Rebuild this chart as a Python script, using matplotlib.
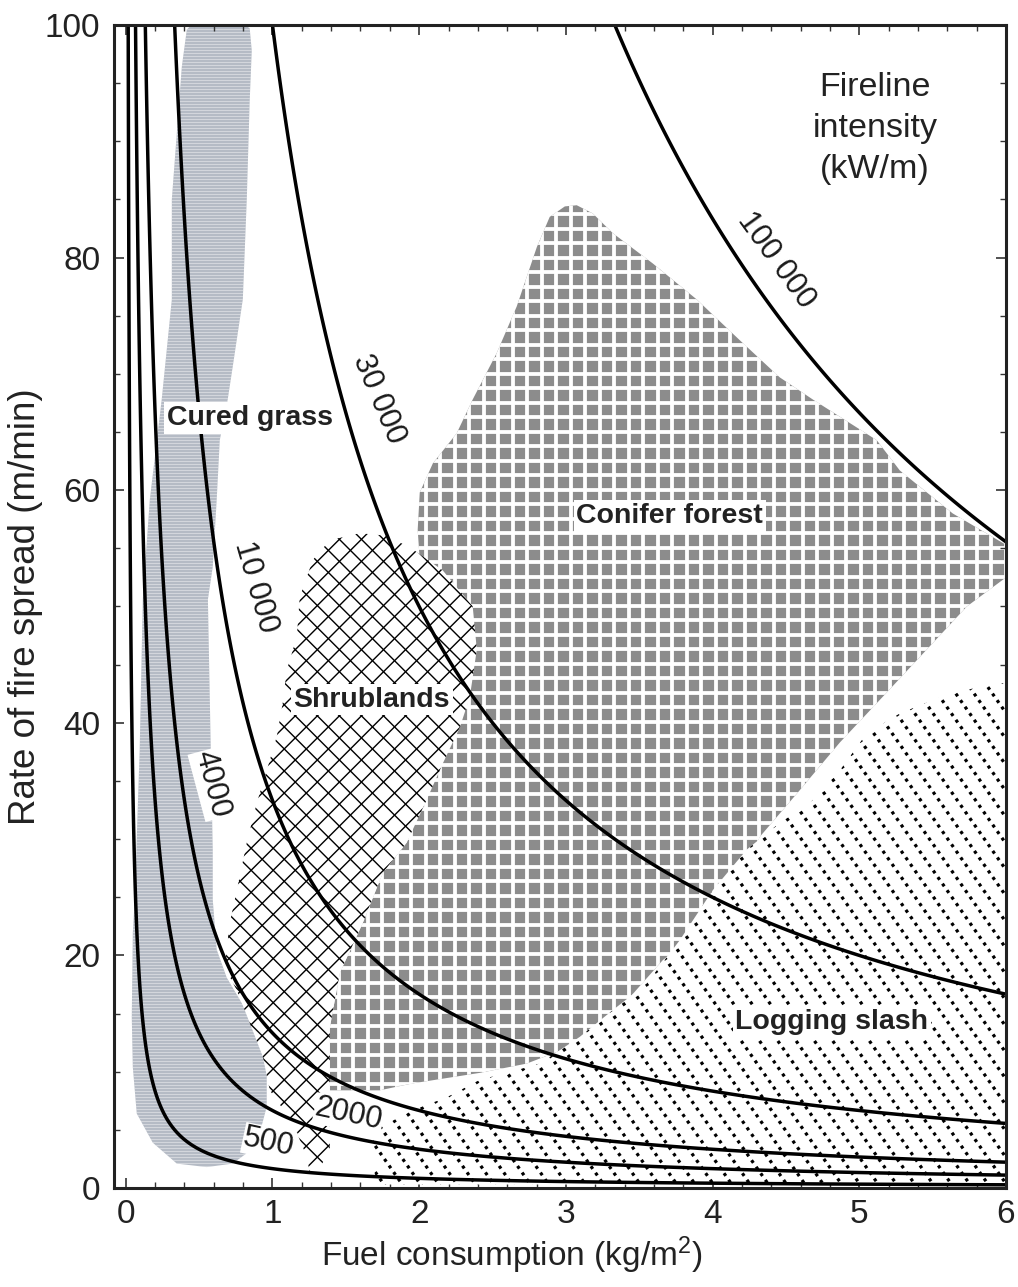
import numpy as np
import matplotlib
matplotlib.use("Agg")
import matplotlib.pyplot as plt
from matplotlib.patches import Polygon
from matplotlib.collections import LineCollection
from matplotlib.transforms import Affine2D
from matplotlib.ticker import MultipleLocator

plt.rcParams['font.family'] = ['Liberation Sans', 'DejaVu Sans']
plt.rcParams['mathtext.fontset'] = 'custom'
plt.rcParams['mathtext.rm'] = 'Liberation Sans'
plt.rcParams['mathtext.it'] = 'Liberation Sans'

# ---------------- data ----------------
heat_content = 18000  # kJ/kg (Byram)
intensity_levels = [500, 2000, 4000, 10000, 30000, 100000]
intensity_labels = ['500', '2000', '4000', '10 000', '30 000', '100 000']

x_ticks = [0, 1, 2, 3, 4, 5, 6]
y_ticks = [0, 20, 40, 60, 80, 100]

grass_x = [0.416, 0.47, 0.607, 0.777, 0.845, 0.859, 0.845, 0.825, 0.798, 0.729, 0.695, 0.641,
           0.620, 0.593, 0.560, 0.573, 0.593, 0.593, 0.620, 0.688, 0.777, 0.893, 0.961, 0.961,
           0.913, 0.825, 0.729, 0.552, 0.348, 0.184, 0.075, 0.048, 0.041, 0.048, 0.061, 0.095,
           0.116, 0.164, 0.245, 0.314, 0.314, 0.348, 0.382]
grass_y = [99.6, 100.3, 100.6, 100.4, 99.7, 97.8, 93.5, 85.0, 76.4, 70.6, 67.8, 64.3,
           59.2, 53.4, 50.6, 42.0, 29.1, 24.8, 20.5, 18.1, 16.2, 13.8, 11.0, 7.0,
           4.7, 3.0, 2.1, 1.8, 2.1, 3.9, 6.4, 10.4, 14.7, 21.9, 24.8, 37.7,
           50.6, 59.2, 67.8, 76.4, 85.0, 90.7, 96.4]

shrub_x = [1.595, 1.766, 1.936, 2.161, 2.365, 2.393, 2.345, 2.277, 2.161, 2.052, 1.915, 1.752,
           1.616, 1.459, 1.391, 1.391, 1.391, 1.309, 1.254, 1.234, 1.138, 0.982, 0.934, 0.845,
           0.757, 0.675, 0.709, 0.757, 0.825, 0.893, 0.961, 1.029, 1.070, 1.097, 1.166, 1.186,
           1.275, 1.391]
shrub_y = [56.3, 56.1, 55.1, 53.1, 50.0, 46.3, 42.2, 39.6, 36.5, 33.4, 29.7, 27.1,
           22.8, 18.5, 13.8, 9.9, 3.3, 1.4, 1.3, 2.7, 5.6, 8.4, 11.3, 14.2,
           17.0, 19.0, 22.8, 25.6, 29.7, 33.1, 35.9, 38.8, 41.7, 44.5, 47.4, 50.8,
           54.0, 55.7]

conifer_x = [3.074, 3.183, 3.320, 3.592, 3.892, 4.185, 4.458, 4.683, 5.119, 5.276, 5.637, 6.0,
             6.0, 5.733, 5.460, 5.187, 4.867, 4.594, 4.322, 4.117, 3.892, 3.661, 3.436, 3.211,
             2.979, 2.733, 2.413, 1.956, 1.731, 1.391, 1.391, 1.459, 1.616, 1.752, 1.915, 2.140,
             2.243, 2.140, 2.004, 1.990, 2.004, 2.093, 2.256, 2.365, 2.529, 2.665, 2.802, 2.890,
             2.993]
conifer_y = [84.5, 83.8, 82.1, 79.5, 76.4, 72.9, 69.7, 67.8, 64.3, 61.7, 58.0, 55.3,
             52.5, 50.0, 46.3, 42.6, 38.3, 34.2, 30.2, 25.4, 21.9, 19.6, 16.4, 13.8,
             11.9, 10.7, 9.9, 9.0, 8.4, 8.4, 13.8, 18.5, 22.8, 27.1, 29.7, 36.8,
             42.0, 48.8, 54.0, 56.6, 59.8, 62.3, 64.9, 67.8, 71.8, 75.8, 80.9, 83.5,
             84.4]

slash_x = [6.0, 5.890, 5.733, 5.549, 5.276, 5.051, 4.867, 4.663, 4.458, 4.233, 4.001, 3.776,
           3.552, 3.320, 3.095, 2.822, 2.597, 2.413, 2.188, 1.956, 1.731, 1.684, 1.697, 1.731,
           6.0]
slash_y = [43.4, 43.4, 42.8, 42.2, 40.8, 39.1, 35.9, 33.1, 31.4, 29.1, 25.6, 21.3,
           17.6, 15.3, 13.0, 10.7, 9.9, 9.3, 7.8, 6.7, 5.2, 4.1, 1.1, 0.3,
           0.3]

region_names = ['Cured grass', 'Shrublands', 'Conifer forest', 'Logging slash']

# ---------------- figure ----------------
W_PX, H_PX, DPI = 1018, 1287, 100
fig = plt.figure(figsize=(W_PX / DPI, H_PX / DPI), dpi=DPI)
ax_rect = [0.112, 0.0769, 0.8762, 0.9037]
ax = fig.add_axes(ax_rect)
ax.set_xlim(-0.08, 6.0)
ax.set_ylim(0, 100)

axw = W_PX * ax_rect[2]
axh = H_PX * ax_rect[3]
pix = Affine2D().scale(1.0 / axw, 1.0 / axh) + ax.transAxes
PT = 72.0 / DPI  # points per pixel


def add_region(xs, ys, face, z):
    p = Polygon(np.column_stack([xs, ys]), closed=True, facecolor=face,
                edgecolor='none', linewidth=0, zorder=z)
    ax.add_patch(p)
    return p


def line_set(angle_deg, spacing, offset=0.0):
    th = np.deg2rad(angle_deg)
    d = np.array([np.cos(th), np.sin(th)])
    n = np.array([-np.sin(th), np.cos(th)])
    D = np.hypot(axw, axh)
    c0 = np.array([axw / 2, axh / 2])
    segs = []
    for c in np.arange(-D, D, spacing) + offset:
        m = c0 + c * n
        segs.append([m - D * d, m + D * d])
    return segs


def add_pattern(patch, segs, color, lw_px, z, ls='solid', alpha=1.0):
    lc = LineCollection(segs, colors=color, linewidths=lw_px * PT, transform=pix,
                        zorder=z, linestyles=ls, alpha=alpha)
    lc.set_capstyle('butt')
    ax.add_collection(lc)
    lc.set_clip_path(patch)
    return lc


# Cured grass: light blue-grey with fine horizontal streaks
grass = add_region(grass_x, grass_y, '#b5bbc5', 1)
add_pattern(grass, line_set(0, 3.0), 'white', 0.9, 1.1, alpha=0.45)

# Conifer forest: grey squares on white grid
conifer = add_region(conifer_x, conifer_y, '#8c8c8c', 1)
add_pattern(conifer, line_set(0, 14.5, 2.0) + line_set(90, 14.5, 5.0), 'white', 3.8, 1.1)

# Shrublands: black diagonal cross-hatch on white
shrub = add_region(shrub_x, shrub_y, 'white', 2)
add_pattern(shrub, line_set(45, 15.6) + line_set(-45, 15.6), 'black', 1.4, 2.1)

# Logging slash: dotted diagonal lines on white
slash = add_region(slash_x, slash_y, 'white', 2)
add_pattern(slash, line_set(-55, 15.0), 'black', 3.2, 2.1, ls=(0, (1, 1.5)))

# Fireline-intensity isolines: I = H * w * r
w = np.linspace(0.001, 6.3, 2600)
r = np.linspace(0.0, 102.0, 1600)
Wg, Rg = np.meshgrid(w, r)
Ig = heat_content * Wg * Rg / 60.0
ax.contour(Wg, Rg, Ig, levels=intensity_levels, colors='black',
           linewidths=2.5, zorder=3)

# isoline labels
lab_x = [0.975, 1.52, 0.585, 0.885, 1.725, 4.43]
lab_y = [3.9, 6.3, 34.7, 51.7, 67.8, 79.8]
lab_rot = [-12, -12, -75, -74, -67, -54]
lab_box = [True, True, True, False, False, False]
for s, x, y, rot, bx in zip(intensity_labels, lab_x, lab_y, lab_rot, lab_box):
    kw = dict(bbox=dict(facecolor='white', edgecolor='none', pad=0.5)) if bx else {}
    ax.text(x, y, s, rotation=rot, rotation_mode='anchor', ha='center', va='center',
            fontsize=22, color='#1a1a1a', zorder=5, **kw)

# region labels
reg_x = [0.845, 1.677, 3.708, 4.813]
reg_y = [66.2, 42.0, 57.8, 14.3]
for s, x, y in zip(region_names, reg_x, reg_y):
    ax.text(x, y, s, ha='center', va='center', fontsize=20.5, fontweight='bold',
            color='#222222', zorder=5,
            bbox=dict(facecolor='white', edgecolor='none', pad=2.0))

ax.text(5.106, 91.1, 'Fireline\nintensity\n(kW/m)', ha='center', va='center',
        fontsize=24.5, color='#222222', linespacing=1.42, zorder=5)

# axes styling
ax.set_xticks(x_ticks)
ax.set_yticks(y_ticks)
ax.xaxis.set_minor_locator(MultipleLocator(0.2))
ax.yaxis.set_minor_locator(MultipleLocator(5))
ax.tick_params(which='both', direction='in', top=True, right=True, colors='#333333',
               labelcolor='#222222')
ax.tick_params(which='major', length=7, width=1.2, labelsize=24, pad=8)
ax.tick_params(which='minor', length=4, width=1.0)
ax.tick_params(axis='y', which='major', pad=10)
for sp in ax.spines.values():
    sp.set_linewidth(2.2)
    sp.set_color('#222222')
    sp.set_zorder(6)

ax.set_xlabel('Fuel consumption (kg/m$^{2}$)', fontsize=24, color='#222222', labelpad=3)
ax.xaxis.set_label_coords(0.446, -0.04, transform=ax.transAxes)
ax.xaxis.label.set_va('top')
ax.set_ylabel('Rate of fire spread (m/min)', fontsize=26.5, color='#222222', labelpad=1)

fig.savefig('out.png', dpi=DPI)
